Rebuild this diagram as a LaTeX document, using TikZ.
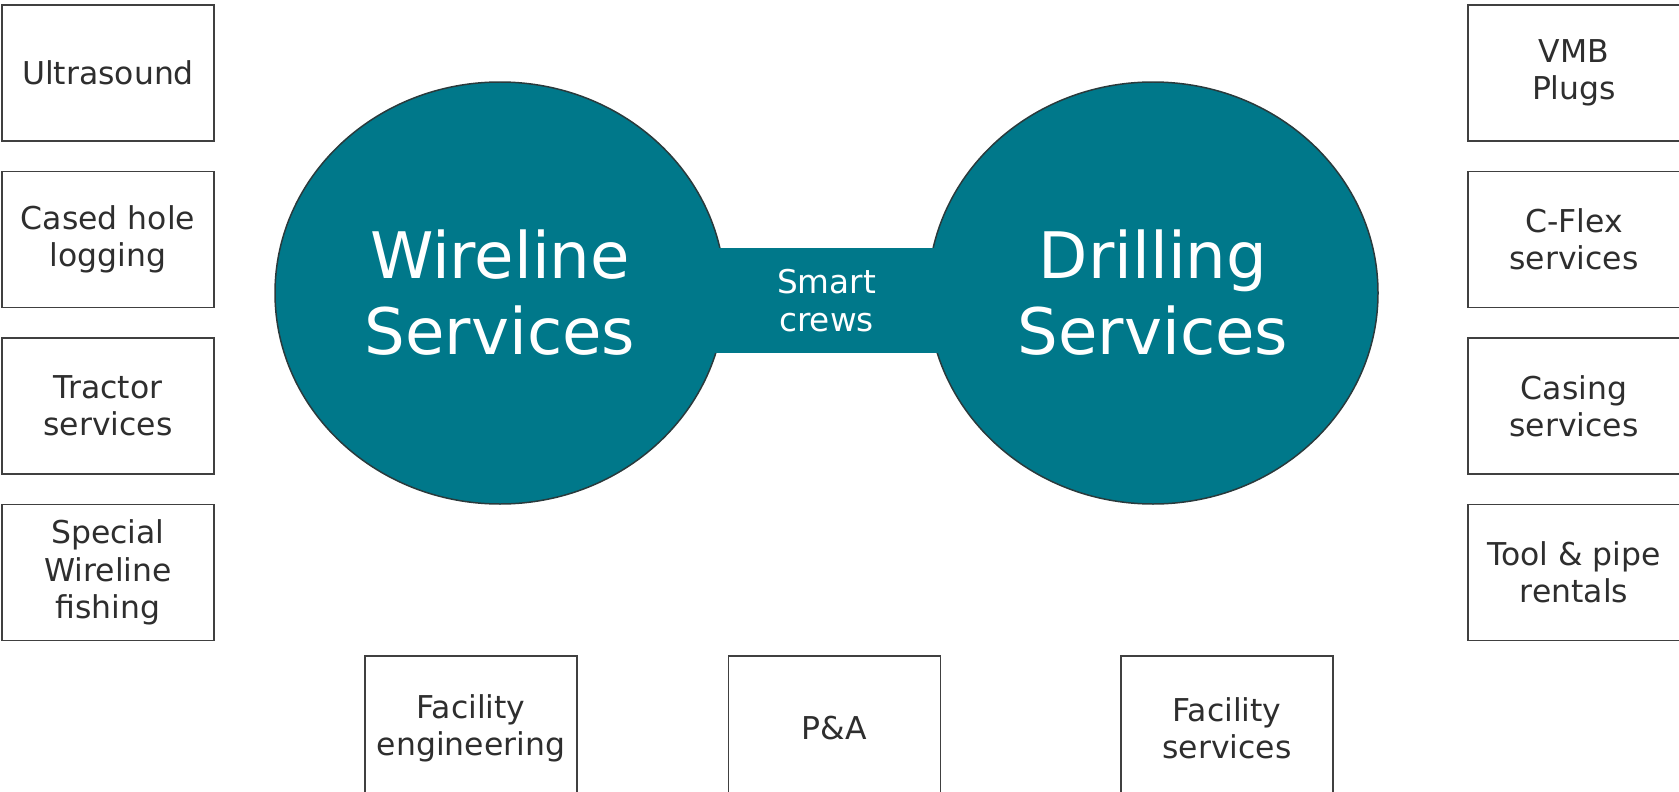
\documentclass[tikz,border=0pt]{standalone}
\usepackage{fontspec}
\setmainfont{DejaVu Sans}
\usepackage{tikz}
\usetikzlibrary{positioning,calc,shapes.geometric}
\definecolor{ServiceTeal}{HTML}{00788A}
\definecolor{ServiceText}{HTML}{2E2E2E}
\definecolor{ServiceBorder}{HTML}{404040}
\definecolor{ServiceOutline}{HTML}{2A3A3C}

\begin{document}
\begin{tikzpicture}[
    node distance=0.58cm and 3cm,
    box/.style={draw=ServiceBorder, line width=0.85pt, fill=white,
      minimum width=4.24cm, minimum height=2.72cm, inner sep=2pt, align=center,
      text=ServiceText, font=\fontsize{17.9pt}{21.2pt}\selectfont},
    lowbox/.style={box, minimum height=2.9cm},
    hub/.style={ellipse, draw=ServiceOutline, line width=0.85pt, fill=ServiceTeal,
      minimum width=9cm, minimum height=8.44cm, inner sep=0pt, align=center,
      text=white, font=\fontsize{36.5pt}{43.2pt}\selectfont},
    bridge/.style={rectangle, fill=ServiceTeal, minimum width=5.06cm, minimum height=2.1cm,
      align=center, text=white, font=\fontsize{18.6pt}{21.4pt}\selectfont}
  ]
    \useasboundingbox (0,0) rectangle (33.58,-15.82);
    % wireline side
    \node[box] (ultrasound) at (2.16,-1.46) {Ultrasound};
    \node[box, below=of ultrasound] (casedhole) {Cased hole\\logging};
    \node[box, below=of casedhole] (tractor) {Tractor\\services};
    \node[box, below=of tractor] (fishing) {Special\\Wireline\\fishing};
    % drilling side
    \node[box] (vmb) at (31.48,-1.46) {VMB\\Plugs};
    \node[box, below=of vmb] (cflex) {C-Flex\\services};
    \node[box, below=of cflex] (casing) {Casing\\services};
    \node[box, below=of casing] (rentals) {Tool \& pipe\\rentals};
    % bottom row, runs off the lower edge
    \node[lowbox] (faceng) at (9.42,-14.57) {Facility\\engineering};
    \node[lowbox, right=3cm of faceng] (pa) {P\&A};
    \node[lowbox, right=3.58cm of pa] (facserv) {Facility\\services};
    % the two hubs and the bar between them
    \node[hub] (wireline) at (10,-5.86) {Wireline\\Services};
    \node[hub] (drilling) at (23.06,-5.86) {Drilling\\Services};
    \node[bridge] (crews) at ($(wireline)!0.5!(drilling)+(0,-0.15)$) {Smart\\crews};
  \end{tikzpicture}
\end{document}
